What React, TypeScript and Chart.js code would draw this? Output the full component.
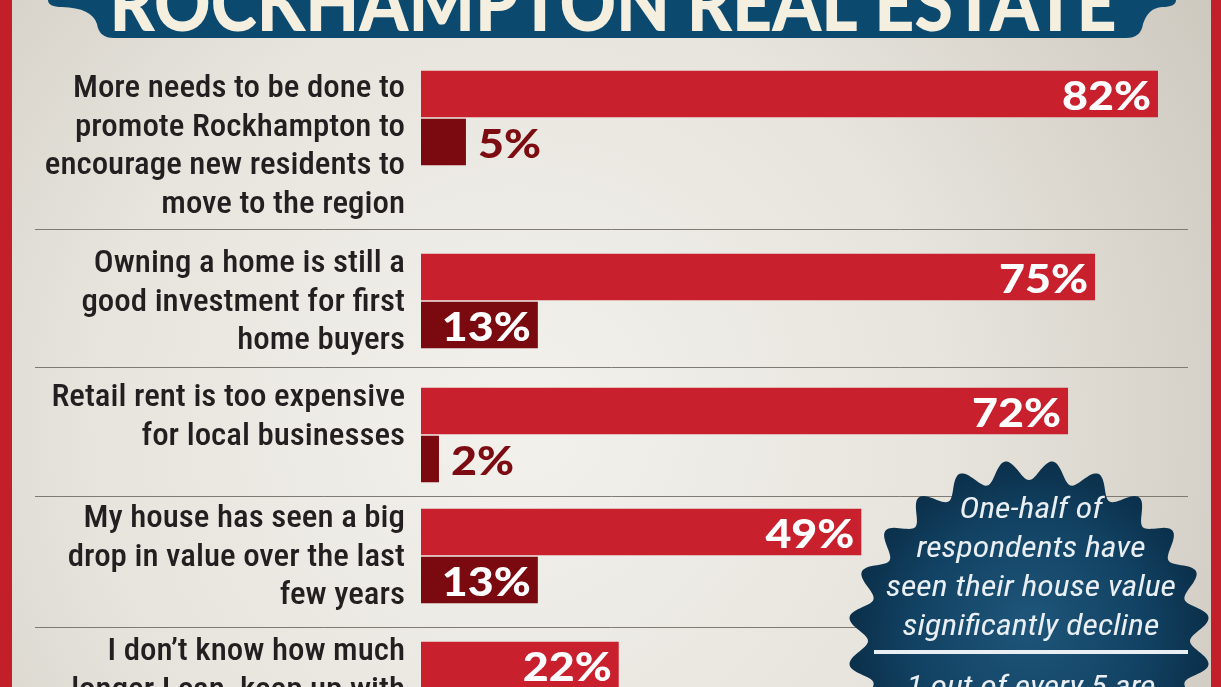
import React, { useEffect, useRef } from "react";
import { Chart, registerables } from "chart.js";

Chart.register(...registerables);

// ---- data ----
const categories: string[][] = [
  ["More needs to be done to", "promote Rockhampton to", "encourage new residents to", "move to the region"],
  ["Owning a home is still a", "good investment for first", "home buyers"],
  ["Retail rent is too expensive", "for local businesses"],
  ["My house has seen a big", "drop in value over the last", "few years"],
  ["I don\u2019t know how much", "longer I can  keep up with"],
];
const agreeValues: (number | null)[] = [82, 75, 72, 49, 22];
const disagreeValues: (number | null)[] = [5, 13, 2, 13, null]; // last one is outside the visible crop
const titleText = "ROCKHAMPTON REAL ESTATE";
const badgeLines = ["One-half of", "respondents have", "seen their house value", "significantly decline"];
const badgeFooter = "1 out of every 5 are";

// ---- layout (units of the vertical layout scale) ----
const rowCenters = [118, 301, 435, 556, 689];
const separators = [229, 367, 496, 627];
const labelTopPad = [27, 19, 19, 19, 19];

const LIGHT = "#c8202d";
const DARK = "#7a0a0f";

function points(vals: (number | null)[]) {
  const out: { x: number; y: number }[] = [];
  vals.forEach((v, i) => {
    if (v !== null) out.push({ x: v, y: rowCenters[i] });
  });
  return out;
}

const decorPlugin = {
  id: "decor",
  beforeDraw(chart: any) {
    const { ctx, width, height } = chart;
    ctx.save();
    // background
    const g = ctx.createRadialGradient(520, 420, 40, 520, 420, 820);
    g.addColorStop(0, "#f1f0eb");
    g.addColorStop(0.5, "#e7e4dd");
    g.addColorStop(1, "#cdc8be");
    ctx.fillStyle = g;
    ctx.fillRect(0, 0, width, height);
    // red frame
    ctx.fillStyle = "#c21f2b";
    ctx.fillRect(0, 0, 12, height);
    ctx.fillRect(width - 10, 0, 10, height);

    // title banner
    ctx.fillStyle = "#0b4a6e";
    ctx.beginPath();
    ctx.moveTo(48, -40);
    ctx.lineTo(48, 0);
    ctx.quadraticCurveTo(48, 7, 62, 7);
    ctx.quadraticCurveTo(92, 8, 97, 24);
    ctx.quadraticCurveTo(99, 38, 114, 38);
    ctx.lineTo(1126, 38);
    ctx.quadraticCurveTo(1141, 38, 1143, 24);
    ctx.quadraticCurveTo(1148, 8, 1162, 7);
    ctx.quadraticCurveTo(1176, 7, 1176, 0);
    ctx.lineTo(1176, -40);
    ctx.closePath();
    ctx.fill();

    ctx.font = '900 78px Lato, "Open Sans", sans-serif';
    const tw = ctx.measureText(titleText).width;
    const sx = 1007 / tw;
    ctx.fillStyle = "#f4efdf";
    ctx.textAlign = "center";
    ctx.textBaseline = "alphabetic";
    ctx.translate(613, 31);
    ctx.scale(sx, 1);
    ctx.fillText(titleText, 0, 0);
    ctx.restore();
  },
  beforeDatasetsDraw(chart: any) {
    const { ctx } = chart;
    const y = chart.scales.y;
    ctx.save();
    ctx.strokeStyle = "#7f7a72";
    ctx.lineWidth = 1;
    separators.forEach((s) => {
      const py = Math.round(y.getPixelForValue(s)) + 0.5;
      ctx.beginPath();
      ctx.moveTo(35, py);
      ctx.lineTo(chart.chartArea.right, py);
      ctx.stroke();
    });
    ctx.restore();
  },
  afterDatasetsDraw(chart: any) {
    const { ctx } = chart;
    ctx.save();
    ctx.font = '900 40px Lato, "Open Sans", sans-serif';
    const sx = 89 / ctx.measureText("82%").width;
    ctx.textBaseline = "alphabetic";
    chart.data.datasets.forEach((ds: any, di: number) => {
      const meta = chart.getDatasetMeta(di);
      meta.data.forEach((bar: any, i: number) => {
        const v = ds.data[i].x;
        const label = v + "%";
        const w = ctx.measureText(label).width * sx;
        const barW = bar.x - bar.base;
        const inside = barW > w + 16;
        ctx.save();
        if (inside) {
          ctx.fillStyle = "#ffffff";
          ctx.textAlign = "right";
          ctx.translate(bar.x - 7, bar.y + 16);
        } else {
          ctx.fillStyle = "#7d0c12";
          ctx.textAlign = "left";
          ctx.translate(bar.x + 12, bar.y + 16);
        }
        ctx.scale(sx, 1);
        ctx.fillText(label, 0, 0);
        ctx.restore();
      });
    });
    ctx.restore();
  },
  afterDraw(chart: any) {
    const { ctx } = chart;
    const y = chart.scales.y;
    const left = chart.chartArea.left;
    ctx.save();
    // category labels
    ctx.font = '500 32px "Roboto Condensed", Roboto, "Liberation Sans Narrow", sans-serif';
    const lsx = 332 / ctx.measureText(categories[0][0]).width;
    ctx.fillStyle = "#231f20";
    ctx.textAlign = "right";
    ctx.textBaseline = "alphabetic";
    categories.forEach((lines, i) => {
      const top = y.getPixelForValue(rowCenters[i]) - 48;
      lines.forEach((line, j) => {
        ctx.save();
        ctx.translate(left - 16, top + labelTopPad[i] + j * 38.5);
        ctx.scale(lsx, 1);
        ctx.fillText(line, 0, 0);
        ctx.restore();
      });
    });

    // badge
    const cx = 1029, cy = 641;
    const N = 24;
    ctx.beginPath();
    for (let k = 0; k <= 720; k++) {
      const t = (k / 720) * Math.PI * 2;
      const r = 171 + 10 * Math.cos(N * (t - Math.PI / 24));
      const px = cx + r * Math.cos(t);
      const py = cy + r * Math.sin(t);
      if (k === 0) ctx.moveTo(px, py);
      else ctx.lineTo(px, py);
    }
    ctx.closePath();
    const bg = ctx.createRadialGradient(cx, cy - 20, 10, cx, cy, 185);
    bg.addColorStop(0, "#1d5478");
    bg.addColorStop(0.6, "#124263");
    bg.addColorStop(1, "#0a2e48");
    ctx.fillStyle = bg;
    ctx.fill();

    ctx.font = 'italic 30px "Roboto Condensed", Roboto, "Liberation Sans Narrow", sans-serif';
    const bsx = 290 / ctx.measureText(badgeLines[2]).width;
    ctx.fillStyle = "#e9eff3";
    ctx.textAlign = "center";
    const baselines = [518, 557, 596, 635];
    badgeLines.forEach((line, j) => {
      ctx.save();
      ctx.translate(1031, baselines[j]);
      ctx.scale(bsx, 1);
      ctx.fillText(line, 0, 0);
      ctx.restore();
    });
    ctx.fillRect(874, 650, 314, 4);
    ctx.save();
    ctx.translate(1031, 696);
    ctx.scale(bsx, 1);
    ctx.fillText(badgeFooter, 0, 0);
    ctx.restore();
    ctx.restore();
  },
};

export default function App() {
  const ref = useRef<HTMLCanvasElement>(null);
  useEffect(() => {
    document.body.style.margin = "0";
    const barStyle = {
      borderColor: "rgba(0,0,0,0)",
      borderWidth: { top: 1, bottom: 1, left: 0, right: 0 },
      borderSkipped: false,
      barThickness: 48,
    };
    const chart = new Chart(ref.current as HTMLCanvasElement, {
      type: "bar",
      data: {
        datasets: [
          { label: "Agree", data: points(agreeValues), backgroundColor: LIGHT, ...barStyle } as any,
          { label: "Disagree", data: points(disagreeValues), backgroundColor: DARK, ...barStyle } as any,
        ],
      },
      options: {
        indexAxis: "y",
        responsive: false,
        animation: false,
        devicePixelRatio: 1,
        layout: { padding: { left: 421, right: 33, top: 0, bottom: 0 } },
        scales: {
          x: { type: "linear", min: 0, max: 85.34, display: false, offset: false },
          y: { type: "linear", min: 0, max: 687, reverse: true, display: false, offset: false, grid: { offset: false } },
        },
        plugins: { legend: { display: false }, tooltip: { enabled: false } },
      } as any,
      plugins: [decorPlugin],
    });
    return () => chart.destroy();
  }, []);
  return (
    <div style={{ width: 1221, height: 687, position: "relative", overflow: "hidden" }}>
      <canvas ref={ref} width={1221} height={687} style={{ display: "block" }} />
    </div>
  );
}
